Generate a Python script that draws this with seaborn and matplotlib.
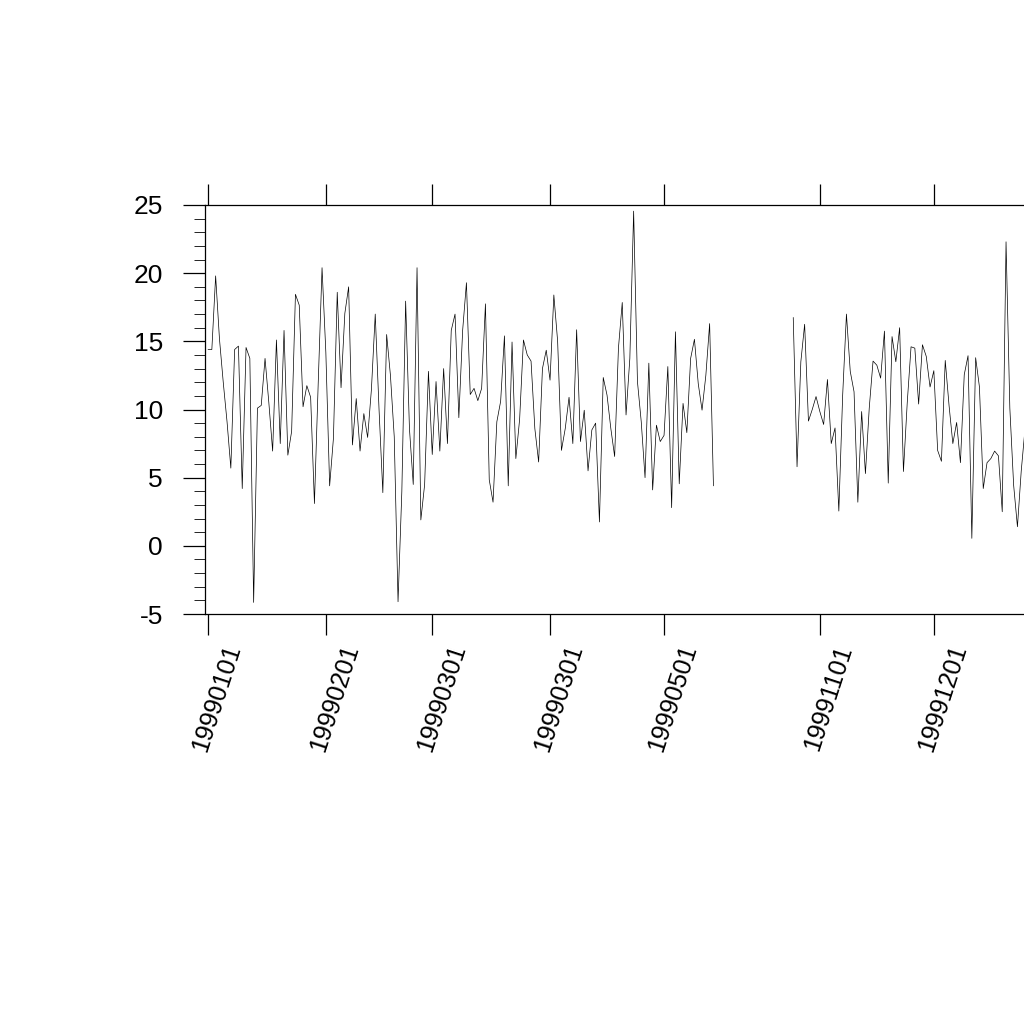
import numpy as np
import pandas as pd
import matplotlib
matplotlib.use("Agg")
import matplotlib.pyplot as plt
import matplotlib.transforms as mtransforms
from matplotlib.ticker import MultipleLocator
import seaborn as sns

# daily values from 19990101 up to mid May (positions 0..133)
spring_vals = [
    14.4, 14.4, 19.8, 15.2, 12.0, 9.1, 5.7, 14.4, 14.65, 4.2,
    14.55, 13.75, -4.15, 10.1, 10.3, 13.75, 10.5, 6.95, 15.1, 7.5,
    15.8, 6.65, 8.4, 18.45, 17.65, 10.2, 11.75, 10.9, 3.1, 12.0,
    20.4, 14.2, 4.4, 7.9, 18.6, 11.6, 17.05, 19.0, 7.4, 10.8,
    6.95, 9.7, 7.95, 11.5, 17.0, 10.0, 3.9, 15.5, 12.5, 8.0,
    -4.1, 4.0, 17.95, 8.6, 4.5, 20.4, 1.9, 4.5, 12.8, 6.7,
    12.05, 6.95, 13.0, 7.5, 15.8, 17.0, 9.4, 15.8, 19.3, 11.1,
    11.55, 10.65, 11.55, 17.75, 4.85, 3.2, 9.1, 10.6, 15.4, 4.4,
    14.95, 6.4, 9.3, 15.1, 14.0, 13.55, 8.6, 6.15, 13.0, 14.35,
    12.15, 18.4, 15.0, 7.0, 8.6, 10.9, 7.5, 15.85, 7.65, 9.95,
    5.5, 8.5, 9.0, 1.75, 12.35, 11.05, 8.6, 6.55, 14.5, 17.85,
    9.6, 13.75, 24.55, 12.05, 9.1, 5.0, 13.4, 4.1, 8.85, 7.65,
    8.1, 13.15, 2.8, 15.7, 4.55, 10.45, 8.3, 13.75, 15.15, 11.9,
    9.95, 12.5, 16.3, 4.4,
]
# records with no value between the two blocks
n_missing = 20
# daily values from late October to the end of the file (positions 154..215)
autumn_vals = [
    16.75, 5.8, 13.5, 16.25, 9.15, 10.0, 10.95, 9.85, 8.9, 12.2,
    7.5, 8.65, 2.55, 11.0, 17.0, 12.8, 11.3, 3.2, 9.85, 5.3,
    10.1, 13.55, 13.25, 12.3, 15.75, 4.6, 15.35, 13.5, 16.0, 5.45,
    10.5, 14.6, 14.5, 10.4, 14.75, 13.9, 11.65, 12.85, 7.0, 6.2,
    13.6, 10.3, 7.5, 9.05, 6.1, 12.55, 13.95, 0.55, 13.8, 11.65,
    4.2, 6.1, 6.4, 6.95, 6.6, 2.5, 22.3, 10.1, 4.45, 1.4,
    5.5, 8.6,
]

tick_pos = [0, 31, 59, 90, 120, 161, 191]
tick_labels = ["19990101", "19990201", "19990301", "19990301",
               "19990501", "19991101", "19991201"]

values = spring_vals + [np.nan] * n_missing + autumn_vals
segment = ([0] * len(spring_vals) + [1] * n_missing + [2] * len(autumn_vals))
df = pd.DataFrame({"pos": np.arange(len(values)), "value": values, "seg": segment})
df = df.dropna()

sns.set_style("white")
plt.rcParams["font.family"] = ["Liberation Sans", "DejaVu Sans"]
plt.rcParams["axes.unicode_minus"] = False

px = 72 / 100  # points per pixel at dpi=100
fig = plt.figure(figsize=(10.24, 10.24), dpi=100)
x_lo, x_hi = -0.8, 221.8
width_px = (x_hi - x_lo) * 3.8
ax = fig.add_axes([205 / 1024, (1024 - 614) / 1024, width_px / 1024, 409 / 1024])

sns.lineplot(data=df, x="pos", y="value", units="seg", estimator=None,
             color="black", linewidth=0.5, ax=ax, legend=False)

ax.set_xlim(x_lo, x_hi)
ax.set_ylim(-5, 25)
ax.set_xlabel("")
ax.set_ylabel("")

for side in ["left", "top", "bottom", "right"]:
    ax.spines[side].set_visible(True)
    ax.spines[side].set_color("black")
    ax.spines[side].set_linewidth(0.9)

ax.yaxis.set_major_locator(MultipleLocator(5))
ax.yaxis.set_minor_locator(MultipleLocator(1))
ax.tick_params(axis="y", which="major", direction="out", length=22 * px,
               width=0.9, color="black", pad=20 * px, labelsize=19,
               labelcolor="black", left=True)
ax.tick_params(axis="y", which="minor", direction="out", length=11 * px,
               width=0.6, color="black", left=True)

ax.set_xticks(tick_pos)
ax.set_xticklabels(tick_labels, rotation=72, ha="center", va="center",
                   rotation_mode="anchor")
ax.tick_params(axis="x", which="major", direction="out", length=21 * px,
               width=0.9, color="black", top=True, bottom=True,
               labelsize=18, labelcolor="black", pad=63 * px)
shift = mtransforms.ScaledTranslation(9 / 100, 0, fig.dpi_scale_trans)
for lbl in ax.get_xticklabels():
    lbl.set_transform(lbl.get_transform() + shift)

fig.savefig("out.png", dpi=100, facecolor="white")
plt.close(fig)
